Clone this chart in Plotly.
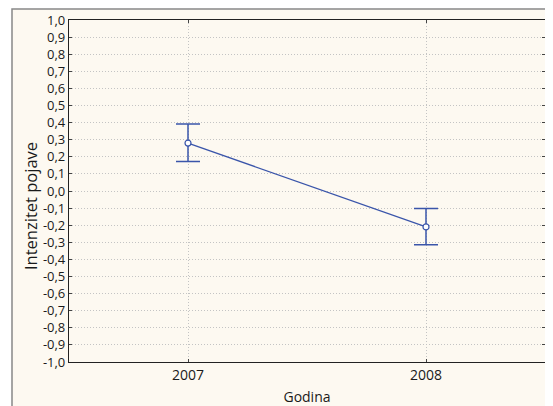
import plotly.graph_objects as go

years = ["2007", "2008"]
means = [0.28, -0.21]
err_plus = [0.112, 0.107]
err_minus = [0.108, 0.105]
y_tick_vals = [1.0, 0.9, 0.8, 0.7, 0.6, 0.5, 0.4, 0.3, 0.2, 0.1, 0.0,
               -0.1, -0.2, -0.3, -0.4, -0.5, -0.6, -0.7, -0.8, -0.9, -1.0]
y_tick_text = ["1,0", "0,9", "0,8", "0,7", "0,6", "0,5", "0,4", "0,3", "0,2", "0,1", "0,0",
               "-0,1", "-0,2", "-0,3", "-0,4", "-0,5", "-0,6", "-0,7", "-0,8", "-0,9", "-1,0"]
x_title = "Godina"
y_title = "Intenzitet pojave"

# page body has an 8px default margin, so the figure is offset by 8px
OFF = 8
W, H = 553 - OFF, 406 - OFF
L, R, T, B = 69 - OFF, 8, 20 - OFF, 44
pw, ph = W - L - R, H - T - B
cream = "#fdf9f1"
blue = "#3a55aa"

def px_x(p):
    return (p - OFF - L) / pw

def px_y(p):
    return (H - B - (p - OFF)) / ph

fig = go.Figure()
fig.add_trace(go.Scatter(
    x=[0, 1], y=means, mode="lines+markers",
    line=dict(color=blue, width=1.3),
    marker=dict(symbol="circle", size=6, color="white", line=dict(color=blue, width=1.2)),
    error_y=dict(type="data", symmetric=False, array=err_plus, arrayminus=err_minus,
                 color=blue, thickness=1.5, width=12),
    showlegend=False,
))

fig.add_shape(type="rect", xref="paper", yref="paper",
              x0=px_x(12), x1=px_x(570), y0=px_y(420), y1=px_y(9),
              line=dict(color="#888888", width=1.5), fillcolor=cream, layer="below")

fam = "Open Sans, Noto Sans, sans-serif"
font = dict(family=fam, size=14, color="#1a1a1a")
grid = "#c4c4c4"

fig.add_annotation(text=y_title, textangle=-90, showarrow=False,
                   xref="paper", yref="paper", x=px_x(30), y=px_y(206),
                   xanchor="center", yanchor="middle",
                   font=dict(family=fam, size=16.5, color="#1a1a1a"))

fig.update_layout(
    width=W, height=H,
    margin=dict(l=L, r=R, t=T, b=B, pad=0, autoexpand=False),
    paper_bgcolor="white", plot_bgcolor=cream,
    font=font,
    xaxis=dict(
        range=[-0.5, 1.5], tickvals=[0, 1], ticktext=years, automargin=False,
        showgrid=True, gridcolor=grid, griddash="1px,2px", gridwidth=1,
        showline=True, linecolor="#222222", linewidth=1.2, mirror="ticks",
        ticks="inside", ticklen=3, tickcolor="#444444",
        zeroline=False,
        tickfont=dict(family=fam, size=14, color="#1a1a1a"),
        title=dict(text=x_title, standoff=10, font=font),
    ),
    yaxis=dict(
        range=[-1.0, 1.0], tickvals=y_tick_vals, ticktext=y_tick_text, automargin=False,
        showgrid=True, gridcolor=grid, griddash="1px,2px", gridwidth=1,
        showline=True, linecolor="#222222", linewidth=1.2, mirror="ticks",
        ticks="inside", ticklen=3, tickcolor="#444444",
        zeroline=False,
        tickfont=dict(family=fam, size=13, color="#1a1a1a"),
    ),
)

fig.write_html("out.html")
